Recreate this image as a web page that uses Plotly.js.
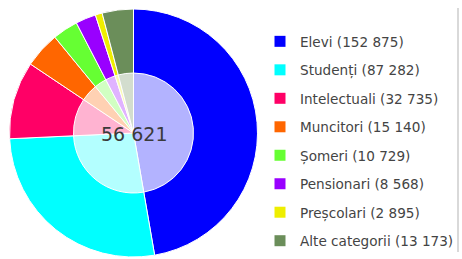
<!DOCTYPE html>
<html>
<head>
<meta charset="utf-8">
<script src="https://cdn.plot.ly/plotly-3.0.1.min.js"></script>
<style>html,body{margin:0;padding:0;background:#fff;}#chart{width:462px;height:259px;}</style>
</head>
<body>
<div id="chart"></div>
<script>
const categories = ['Elevi', 'Studenți', 'Intelectuali', 'Muncitori', 'Șomeri', 'Pensionari', 'Preșcolari', 'Alte categorii'];
const values = [152875, 87282, 32735, 15140, 10729, 8568, 2895, 13173];
const colors = ['#0000ff', '#00ffff', '#ff0066', '#ff6600', '#66ff33', '#9900ff', '#eeee00', '#6b8e5a'];
const centerLabel = '56 621';

function fmt(v) { return String(v).replace(/\B(?=(\d{3})+(?!\d))/g, ' '); }
function lighten(hex, f) {
  const n = parseInt(hex.slice(1), 16);
  const r = (n >> 16) & 255, g = (n >> 8) & 255, b = n & 255;
  const m = c => Math.round(c + (255 - c) * f);
  return 'rgb(' + m(r) + ',' + m(g) + ',' + m(b) + ')';
}

const W = 462, H = 259;
const cx = 133.5, cy = 126, R = 124, r = 60;

const outer = {
  type: 'pie', labels: categories, values: values, sort: false, direction: 'clockwise', rotation: 0,
  marker: { colors: colors, line: { color: '#ffffff', width: 1 } },
  textinfo: 'none', hoverinfo: 'none', showlegend: false,
  domain: { x: [(cx - R) / W, (cx + R) / W], y: [(cy - R) / H, (cy + R) / H] }
};
const inner = {
  type: 'pie', labels: categories, values: values, sort: false, direction: 'clockwise', rotation: 0,
  marker: { colors: colors.map(c => lighten(c, 0.7)), line: { color: '#ffffff', width: 1 } },
  textinfo: 'none', hoverinfo: 'none', showlegend: false,
  domain: { x: [(cx - r) / W, (cx + r) / W], y: [(cy - r) / H, (cy + r) / H] }
};
const legendTraces = categories.map((c, i) => ({
  type: 'scatter', mode: 'markers', x: [null], y: [null],
  name: c + ' (' + fmt(values[i]) + ')', legendgroup: 'g' + i,
  marker: { symbol: 'square', size: 11, color: colors[i] },
  hoverinfo: 'none'
}));

const layout = {
  width: W, height: H, margin: { l: 0, r: 0, t: 0, b: 0 },
  paper_bgcolor: '#ffffff', plot_bgcolor: 'rgba(0,0,0,0)',
  xaxis: { visible: false, range: [0, 1] }, yaxis: { visible: false, range: [0, 1] },
  showlegend: true,
  legend: {
    x: 260 / W, y: 1 - 26 / H, xanchor: 'left', yanchor: 'top',
    bgcolor: 'rgba(0,0,0,0)', borderwidth: 0, tracegroupgap: 7.8,
    font: { family: 'DejaVu Sans', size: 13.6, color: '#444444' }
  },
  annotations: [{
    text: centerLabel, x: cx / W, y: (cy - 1) / H, xref: 'paper', yref: 'paper',
    showarrow: false, xanchor: 'center', yanchor: 'middle',
    font: { family: 'DejaVu Sans', size: 19, color: '#3a3a3a' }
  }],
  shapes: [{
    type: 'line', xref: 'paper', yref: 'paper', x0: 458 / W, x1: 458 / W, y0: 1 - 8 / H, y1: 1 - 252 / H,
    line: { color: '#cccccc', width: 1.5 }
  }]
};

Plotly.newPlot('chart', [outer, inner].concat(legendTraces), layout, { staticPlot: true, displayModeBar: false });
</script>
</body>
</html>
